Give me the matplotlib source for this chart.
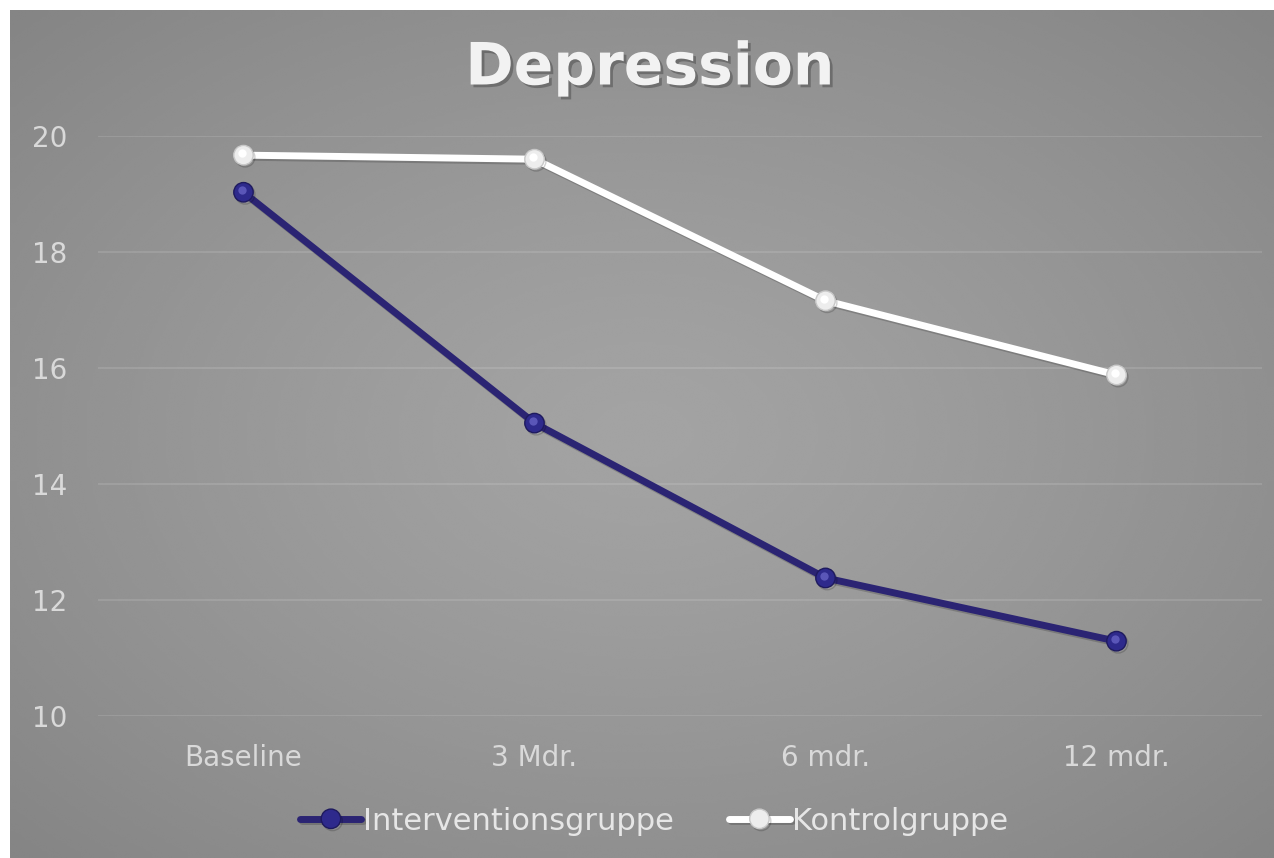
import numpy as np
import matplotlib.pyplot as plt
import matplotlib.patheffects as pe
import matplotlib.transforms as mtrans

# Data
categories = ['Baseline', '3 Mdr.', '6 mdr.', '12 mdr.']
intervention = [19.03, 15.05, 12.38, 11.29]
control = [19.67, 19.60, 17.16, 15.88]
yticks = [10, 12, 14, 16, 18, 20]

W, H, DPI = 1274, 858, 100
fig = plt.figure(figsize=(W / DPI, H / DPI), dpi=DPI)
fig.patch.set_facecolor('white')

# radial gradient background, starting 10px in from left/top
bg = fig.add_axes([10 / W, 0, 1 - 10 / W, 1 - 10 / H])
bg.set_axis_off()
yy, xx = np.mgrid[0:1:300j, 0:1:450j]
d = np.sqrt(((xx - 0.5) / 0.75) ** 2 + ((yy - 0.5) / 0.75) ** 2)
val = 0.64 - 0.13 * np.clip(d, 0, 1) ** 1.3
bg.imshow(val, cmap='gray', vmin=0, vmax=1, aspect='auto', extent=[0, 1, 0, 1],
          interpolation='bicubic')

ax = fig.add_axes([98 / W, 1 - 716 / H, (1262 - 98) / W, (716 - 136) / H])
ax.patch.set_alpha(0)
x = np.arange(len(categories))

shadow = [pe.SimpleLineShadow(offset=(1.2, -1.5), shadow_color='black', alpha=0.18), pe.Normal()]

ax.plot(x, intervention, color='#2B2473', lw=5, solid_capstyle='round',
        marker='o', ms=14, mfc='#2E2A8C', mec='#1E1A5E', mew=1,
        path_effects=shadow, zorder=3, label='Interventionsgruppe')
ax.plot(x, control, color='white', lw=5, solid_capstyle='round',
        marker='o', ms=14, mfc='#EDEDED', mec='#C8C8C8', mew=1,
        path_effects=shadow, zorder=3, label='Kontrolgruppe')
# marker highlights, nudged up-left
hl = ax.transData + mtrans.ScaledTranslation(-2 / DPI, 2 / DPI, fig.dpi_scale_trans)
ax.plot(x, intervention, ls='none', marker='o', ms=6, mfc='#5A56B8', mec='none', zorder=4, transform=hl)
ax.plot(x, control, ls='none', marker='o', ms=6, mfc='white', mec='none', zorder=4, transform=hl)

ax.set_xlim(-0.5, 3.5)
ax.set_ylim(10, 20)
ax.set_yticks(yticks)
ax.set_xticks(x)
ax.set_xticklabels(categories)
ax.grid(axis='y', color='white', alpha=0.14, lw=1.2)
ax.set_axisbelow(True)
for s in ax.spines.values():
    s.set_visible(False)
ax.tick_params(length=0, labelsize=20, labelcolor='#D9D9D9')
ax.tick_params(axis='x', pad=20)
ax.tick_params(axis='y', pad=22)

fig.text(650 / W, 1 - 68 / H, 'Depression', ha='center', va='center',
         fontsize=42, fontweight='bold', color='#F2F2F2',
         path_effects=[pe.withSimplePatchShadow(offset=(2, -2), shadow_rgbFace='black', alpha=0.25)])

leg = ax.legend(loc='center', bbox_to_anchor=(654 / W, 1 - 821 / H), bbox_transform=fig.transFigure,
                ncol=2, frameon=False, fontsize=22, handlelength=2.0, handletextpad=0.05,
                columnspacing=1.8, labelcolor='#E6E6E6')

fig.savefig('out.png', dpi=DPI)
